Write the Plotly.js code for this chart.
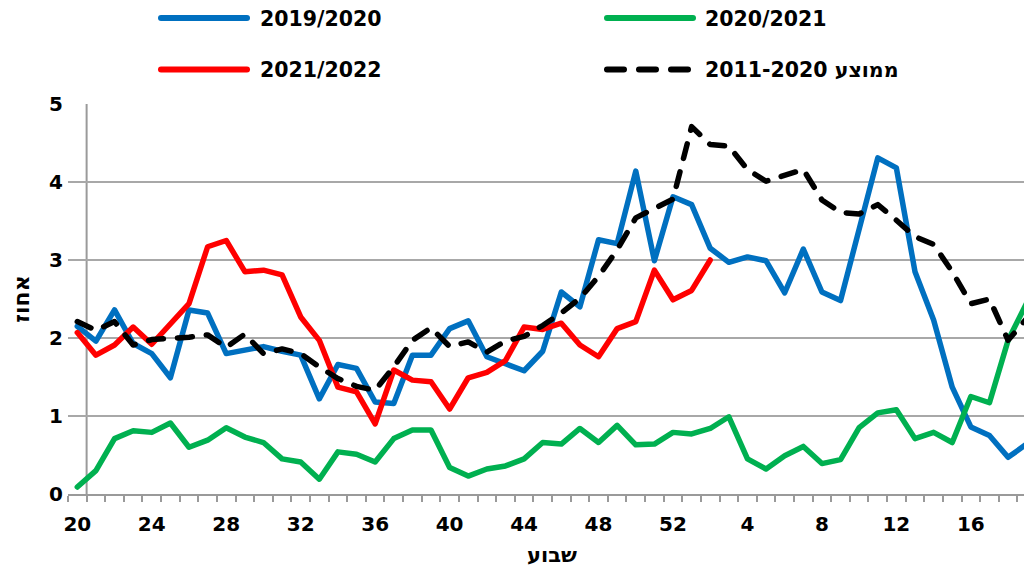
<!DOCTYPE html>
<html>
<head>
<meta charset="utf-8">
<script src="https://cdn.plot.ly/plotly-3.0.1.min.js"></script>
<style>
html,body{margin:0;padding:0;overflow:hidden;background:#fff;width:1024px;height:567px}
#chart{width:1050px;height:567px}
.scatterlayer .js-line{stroke-linecap:round;stroke-linejoin:round}
.shapelayer path{stroke-linecap:round}
</style>
</head>
<body>
<div id="chart"></div>
<script>
// Week sequence (season runs from week 20 to week 19 of the next year)
const weeks = [20,21,22,23,24,25,26,27,28,29,30,31,32,33,34,35,36,37,38,39,40,41,42,43,44,45,46,47,48,49,50,51,52,
               1,2,3,4,5,6,7,8,9,10,11,12,13,14,15,16,17,18,19];
const tickWeeks = [20,24,28,32,36,40,44,48,52,4,8,12,16];
const yTicks = [0,1,2,3,4,5];

const seriesNames = ['2019/2020','2020/2021','2021/2022','2011-2020 ממוצע'];

const season2019 = [2.15,1.96,2.36,1.93,1.80,1.49,2.36,2.32,1.80,1.84,
                    1.89,1.83,1.78,1.22,1.66,1.61,1.18,1.16,1.78,1.78,
                    2.12,2.22,1.76,1.67,1.58,1.83,2.59,2.40,3.26,3.21,
                    4.14,2.99,3.81,3.71,3.15,2.97,3.04,2.99,2.58,3.14,
                    2.59,2.48,3.43,4.31,4.18,2.85,2.23,1.37,0.86,0.75,
                    0.47,0.64];
const season2020 = [0.09,0.30,0.71,0.81,0.79,0.91,0.60,0.69,0.85,0.73,
                    0.66,0.45,0.41,0.19,0.54,0.51,0.41,0.71,0.82,0.82,
                    0.34,0.23,0.32,0.36,0.45,0.66,0.64,0.84,0.66,0.88,
                    0.63,0.64,0.79,0.77,0.84,0.99,0.45,0.32,0.49,0.61,
                    0.39,0.44,0.85,1.04,1.08,0.71,0.79,0.66,1.25,1.17,
                    1.97,2.45];
const season2021 = [2.07,1.78,1.91,2.14,1.92,2.19,2.44,3.17,3.25,2.85,
                    2.87,2.81,2.27,1.97,1.37,1.31,0.90,1.59,1.46,1.44,
                    1.09,1.49,1.56,1.71,2.14,2.11,2.19,1.91,1.76,2.12,
                    2.21,2.87,2.49,2.61,3.00];
const average = [2.21,2.10,2.21,1.91,1.98,1.99,2.01,2.04,1.88,2.05,
                 1.80,1.86,1.80,1.63,1.48,1.38,1.33,1.63,1.97,2.13,
                 1.89,1.95,1.82,1.96,2.02,2.16,2.32,2.51,2.79,3.13,
                 3.54,3.66,3.78,4.71,4.48,4.46,4.16,4.01,4.08,4.16,
                 3.77,3.61,3.59,3.71,3.51,3.30,3.20,2.85,2.44,2.50,
                 1.97,2.25];

const colors = ['#0070C0','#00B050','#FF0000','#000000'];
const allSeries = [season2019, season2020, season2021, average];

const FONT = 'DejaVu Sans, Noto Sans, sans-serif';

const traces = allSeries.map((vals, k) => ({
  type: 'scatter',
  mode: 'lines',
  name: seriesNames[k],
  x: vals.map((v, i) => i),
  y: vals,
  line: {color: colors[k], width: 5.5, dash: k === 3 ? '15px,14px' : 'solid'},
  hoverinfo: 'skip'
}));

// plot-area geometry (pixels) for legend placement
const L = 68, PW = 968, T = 104, PH = 390;
const px = p => (p - L) / PW;
const py = p => (T + PH - p) / PH;

// manual legend (long line samples as in the original)
const legendSlots = [
  {x0: 161, x1: 247, y: 18, tx: 258, ty: 19},
  {x0: 607, x1: 693, y: 18, tx: 703, ty: 19},
  {x0: 161, x1: 247, y: 69.5, tx: 258, ty: 70},
  {x0: 607, x1: 693, y: 69.5, tx: 703, ty: 70}
];

const shapes = [
  // vertical axis line (crosses between first and second category)
  {type: 'line', xref: 'x', yref: 'y', x0: 0.5, x1: 0.5, y0: 0, y1: 5,
   line: {color: '#9a9a9a', width: 2}, layer: 'below'}
];
const annotations = [];
legendSlots.forEach((s, k) => {
  shapes.push({type: 'line', xref: 'paper', yref: 'paper',
    x0: px(s.x0), x1: px(s.x1), y0: py(s.y), y1: py(s.y),
    line: {color: colors[k], width: 6, dash: k === 3 ? '17px,15px' : 'solid'}});
  annotations.push({xref: 'paper', yref: 'paper', x: px(s.tx), y: py(s.ty),
    xanchor: 'left', yanchor: 'middle', showarrow: false, text: seriesNames[k],
    font: {family: FONT, size: 20.5, weight: 'bold', color: '#000'}});
});

const layout = {
  width: 1050, height: 567,
  margin: {l: L, r: 1050 - L - PW, t: T, b: 567 - T - PH},
  paper_bgcolor: '#fff', plot_bgcolor: '#fff',
  showlegend: false,
  font: {family: FONT, color: '#000'},
  xaxis: {
    range: [-0.5, weeks.length - 0.5],
    tickmode: 'array',
    tickvals: tickWeeks.map(w => weeks.indexOf(w)),
    ticktext: tickWeeks.map(String),
    ticks: '',
    ticklabelstandoff: 11,
    tickfont: {family: FONT, size: 20, weight: 'bold', color: '#000'},
    showgrid: false, zeroline: false,
    showline: true, linecolor: '#9a9a9a', linewidth: 2,
    minor: {tickmode: 'linear', tick0: -0.5, dtick: 1, ticks: 'outside',
            ticklen: 6, tickwidth: 2, tickcolor: '#9a9a9a', showgrid: false},
    title: {text: 'שבוע', font: {family: FONT, size: 21, weight: 'bold', color: '#000'}, standoff: 15},
    automargin: false, fixedrange: true
  },
  yaxis: {
    range: [0, 5],
    tickmode: 'array', tickvals: yTicks, ticktext: yTicks.map(String),
    ticks: '', ticklabelstandoff: 4,
    tickfont: {family: FONT, size: 20, weight: 'bold', color: '#000'},
    showgrid: true, gridcolor: '#a8a8a8', gridwidth: 2,
    zeroline: false, showline: false,
    title: {text: 'אחוז', font: {family: FONT, size: 22, weight: 'bold', color: '#000'}, standoff: 13},
    automargin: false, fixedrange: true
  },
  shapes: shapes,
  annotations: annotations
};

Plotly.newPlot('chart', traces, layout, {staticPlot: true, displayModeBar: false});
</script>
</body>
</html>
